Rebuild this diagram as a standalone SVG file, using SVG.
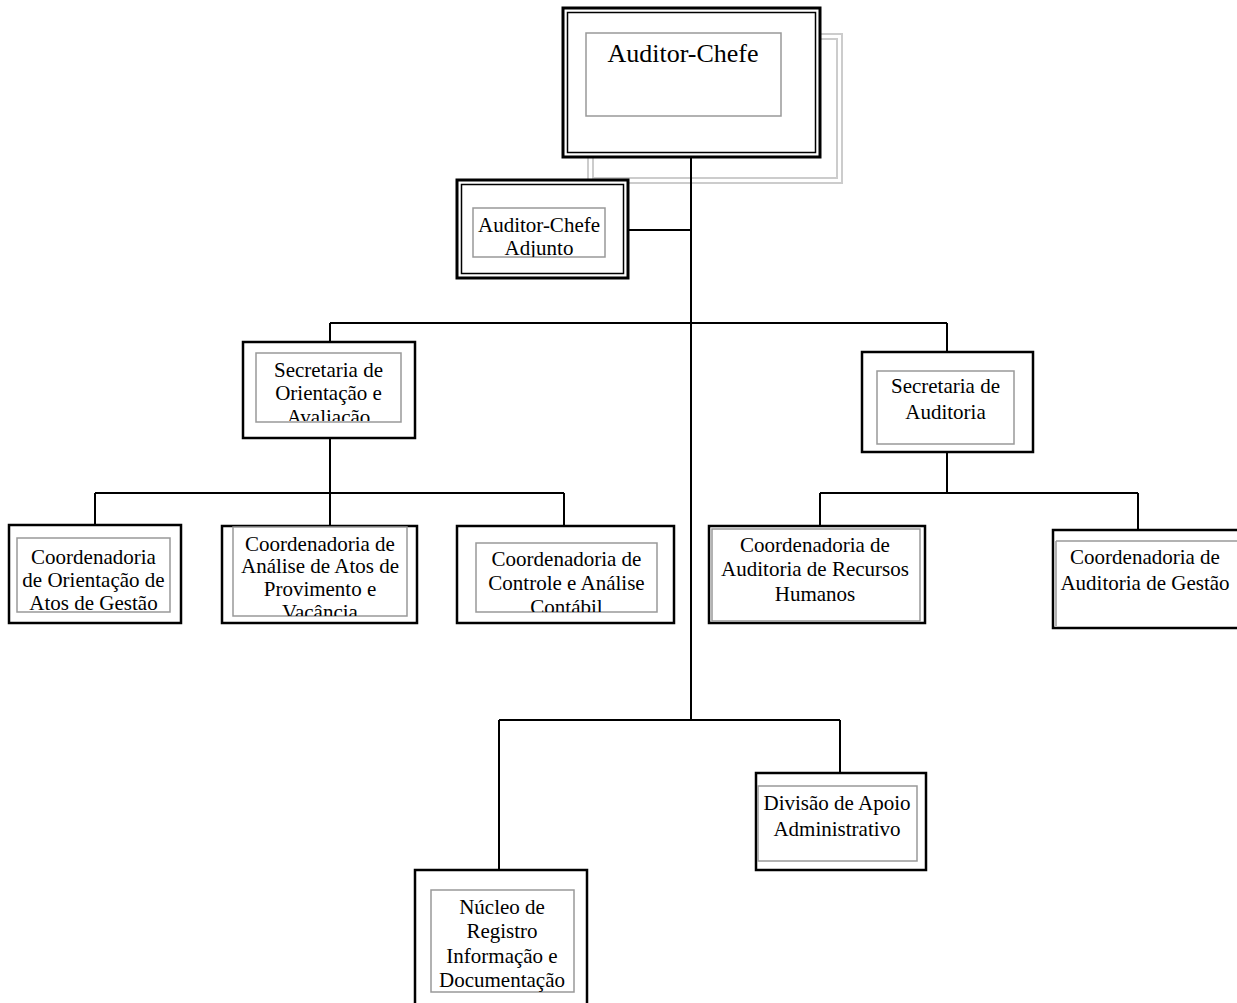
<svg xmlns="http://www.w3.org/2000/svg" width="1237" height="1003" viewBox="0 0 1237 1003">
<style>
.o{fill:none;stroke:#000;stroke-width:2.5}
.d{fill:none;stroke:#000;stroke-width:1.5}
.g{fill:#fff;stroke:#999;stroke-width:1.5}
.s{fill:none;stroke:#ccc;stroke-width:2}
.c{fill:none;stroke:#000;stroke-width:2}
text{font-family:"Liberation Serif","Times New Roman",serif;font-size:21px;fill:#000;text-anchor:middle}
</style>
<defs>
<clipPath id="cAdj"><rect x="473" y="208" width="132" height="49"/></clipPath>
<clipPath id="cSo"><rect x="256" y="353" width="145" height="68"/></clipPath>
<clipPath id="cAn"><rect x="233" y="527" width="174" height="89"/></clipPath>
<clipPath id="cCo"><rect x="476" y="543" width="181" height="69"/></clipPath>
</defs>
<rect width="1237" height="1003" fill="#fff"/>
<g id="auditor-chefe">
<rect class="s" x="588" y="34" width="254" height="149"/>
<rect class="s" x="593" y="39" width="244" height="139"/>
<rect x="563" y="8" width="257" height="149" fill="#fff" stroke="#000" stroke-width="3"/>
<rect class="d" x="567.5" y="12.5" width="248" height="140"/>
<rect class="g" x="586" y="33" width="195" height="83"/>
<text x="683" y="62" style="font-size:26px">Auditor-Chefe</text>
</g>
<g id="adjunto">
<rect x="457" y="180" width="171" height="98" fill="#fff" stroke="#000" stroke-width="3"/>
<rect class="d" x="461.5" y="184.5" width="162" height="89"/>
<rect class="g" x="473" y="208" width="132" height="49"/>
<g clip-path="url(#cAdj)"><text x="539" y="232">Auditor-Chefe</text><text x="539" y="255">Adjunto</text></g>
</g>
<g id="sec-orientacao">
<rect class="o" x="243" y="342" width="172" height="96" fill="#fff"/>
<rect class="g" x="256" y="353" width="145" height="69"/>
<g clip-path="url(#cSo)"><text x="328.5" y="377">Secretaria de</text><text x="328.5" y="400">Orientação e</text><text x="328.5" y="424">Avaliação</text></g>
</g>
<g id="sec-auditoria">
<rect class="o" x="862" y="352" width="171" height="100"/>
<rect class="g" x="877" y="371" width="137" height="73"/>
<text x="945.5" y="393">Secretaria de</text>
<text x="945.5" y="419">Auditoria</text>
</g>
<g id="coord-orientacao">
<rect class="o" x="9" y="525" width="172" height="98"/>
<rect class="g" x="17" y="538" width="153" height="74"/>
<text x="93.5" y="564">Coordenadoria</text>
<text x="93.5" y="587">de Orientação de</text>
<text x="93.5" y="610">Atos de Gestão</text>
</g>
<g id="coord-analise">
<rect class="o" x="222" y="526" width="195" height="97"/>
<rect class="g" x="233" y="527" width="174" height="89"/>
<g clip-path="url(#cAn)"><text x="320" y="551">Coordenadoria de</text><text x="320" y="573">Análise de Atos de</text><text x="320" y="596">Provimento e</text><text x="320" y="619">Vacância</text></g>
</g>
<g id="coord-controle">
<rect class="o" x="457" y="526" width="217" height="97"/>
<rect class="g" x="476" y="543" width="181" height="69"/>
<g clip-path="url(#cCo)"><text x="566.5" y="566">Coordenadoria de</text><text x="566.5" y="590">Controle e Análise</text><text x="566.5" y="614">Contábil</text></g>
</g>
<g id="coord-rh">
<rect class="o" x="709" y="526" width="216" height="97"/>
<rect class="g" x="712" y="529" width="208" height="92"/>
<text x="815" y="552">Coordenadoria de</text>
<text x="815" y="576">Auditoria de Recursos</text>
<text x="815" y="601">Humanos</text>
</g>
<g id="coord-gestao">
<rect class="o" x="1053" y="530" width="200" height="98"/>
<path d="M1056 541H1240M1056 541V626" fill="none" stroke="#999" stroke-width="1.5"/>
<text x="1145" y="564">Coordenadoria de</text>
<text x="1145" y="590">Auditoria de Gestão</text>
</g>
<g id="divisao">
<rect class="o" x="756" y="773" width="170" height="97"/>
<rect class="g" x="758" y="786" width="159" height="75"/>
<text x="837" y="810">Divisão de Apoio</text>
<text x="837" y="836">Administrativo</text>
</g>
<g id="nucleo">
<rect class="o" x="415" y="870" width="172" height="150"/>
<rect class="g" x="431" y="890" width="143" height="102"/>
<text x="502" y="914">Núcleo de</text>
<text x="502" y="938">Registro</text>
<text x="502" y="963">Informação e</text>
<text x="502" y="987">Documentação</text>
</g>
<g id="connectors">
<path class="c" d="M691 157V720M628 230H691M330 323H947M330 323V342M947 323V352M330 438V493M95 493H564M95 493V525M330 493V526M564 493V526M947 452V493M820 493H1138M820 493V526M1138 493V530M499 720H840M499 720V870M840 720V773"/>
</g>
</svg>
